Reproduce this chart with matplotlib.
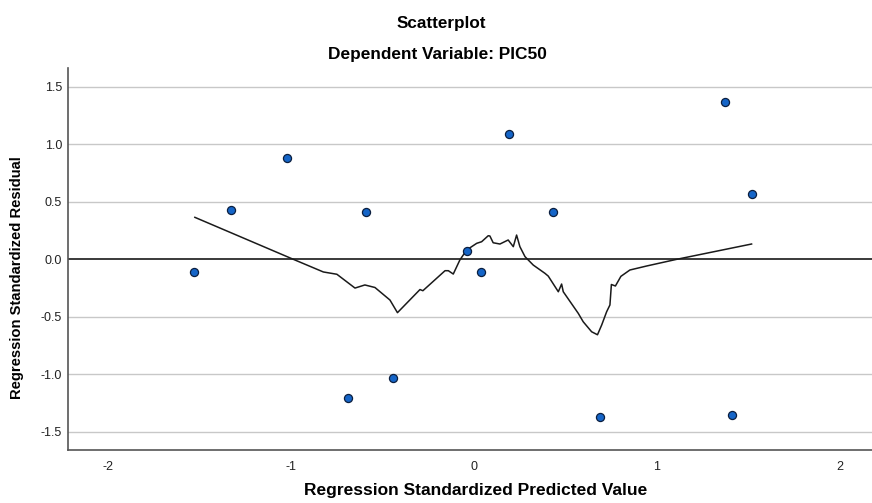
import matplotlib
matplotlib.use('Agg')
import matplotlib.pyplot as plt
import numpy as np

# standardized predicted values and residuals for each case
pred = [-1.53, -1.33, -1.02, -0.59, -0.69, -0.44, -0.04, 0.04, 0.19, 0.43, 0.69, 1.37, 1.41, 1.52]
resid = [-0.11, 0.43, 0.88, 0.41, -1.21, -1.03, 0.07, -0.11, 1.09, 0.41, -1.37, 1.37, -1.35, 0.57]

# loess fit line through the residuals
fit_x = [-1.525, -0.987, -0.823, -0.749, -0.650, -0.596, -0.541, -0.459, -0.418, -0.295,
         -0.279, -0.158, -0.140, -0.113, -0.077, -0.040, 0.015, 0.042, 0.078, 0.087,
         0.105, 0.142, 0.187, 0.215, 0.233, 0.251, 0.279, 0.324, 0.388, 0.406,
         0.461, 0.479, 0.488, 0.570, 0.597, 0.643, 0.675, 0.698, 0.725, 0.743,
         0.751, 0.773, 0.803, 0.852, 0.944, 1.108, 1.517]
fit_y = [0.365, 0.0, -0.110, -0.130, -0.250, -0.223, -0.245, -0.354, -0.464, -0.263,
         -0.273, -0.099, -0.099, -0.128, -0.006, 0.081, 0.139, 0.153, 0.205, 0.203,
         0.144, 0.133, 0.168, 0.110, 0.211, 0.110, 0.023, -0.050, -0.122, -0.146,
         -0.282, -0.215, -0.282, -0.470, -0.543, -0.630, -0.656, -0.571, -0.456, -0.397,
         -0.219, -0.232, -0.148, -0.093, -0.058, 0.0, 0.133]

xticks = [-2, -1, 0, 1, 2]
yticks = [-1.5, -1.0, -0.5, 0.0, 0.5, 1.0, 1.5]

plt.rcParams['font.family'] = ['Liberation Sans', 'DejaVu Sans']

fig = plt.figure(figsize=(8.72, 5.03), dpi=100)
ax = fig.add_axes([0.0776, 0.1054, 0.9224, 0.7586])

# light grid at each y tick, darker reference line at zero
for y in yticks:
    if y != 0:
        ax.axhline(y, color='#c8c8c8', lw=1.0, zorder=0)
ax.axhline(0, color='#3a3a3a', lw=1.4, zorder=1)

ax.plot(fit_x, fit_y, color='#1a1a1a', lw=1.1, zorder=2)
ax.scatter(pred, resid, s=34, color='#1565c8', edgecolors='#0b1f40', linewidths=0.9, zorder=3)

ax.set_xlim(-2.22, 2.175)
ax.set_ylim(-1.658, 1.66)
ax.set_xticks(xticks)
ax.set_xticklabels([str(t) for t in xticks])
ax.set_yticks(yticks)
ax.set_yticklabels(['%.1f' % t for t in yticks])
ax.tick_params(length=0, labelsize=9, colors='#222222')
ax.tick_params(axis='x', pad=8)
ax.tick_params(axis='y', pad=4)

for side in ['top', 'right']:
    ax.spines[side].set_visible(False)
for side in ['left', 'bottom']:
    ax.spines[side].set_color('#555555')
    ax.spines[side].set_linewidth(1.2)

fig.text(0.5065, 0.954, 'Scatterplot', ha='center', va='center', fontsize=12.3, fontweight='bold')
fig.text(0.502, 0.891, 'Dependent Variable: PIC50', ha='center', va='center', fontsize=12.4, fontweight='bold')
fig.text(0.546, 1 - 490 / 503, 'Regression Standardized Predicted Value', ha='center', va='center',
         fontsize=12.5, fontweight='bold')
fig.text(0.0195, 1 - 278 / 503, 'Regression Standardized Residual', ha='center', va='center',
         rotation=90, fontsize=10.6, fontweight='bold')

fig.savefig('out.png', dpi=100)
